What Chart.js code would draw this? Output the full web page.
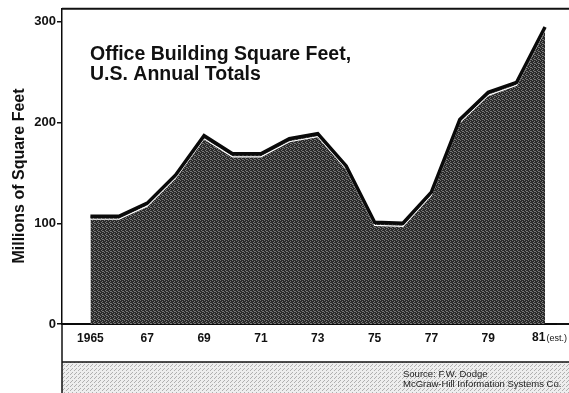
<!DOCTYPE html>
<html>
<head>
<meta charset="utf-8">
<script src="https://cdn.jsdelivr.net/npm/chart.js@4.4.1/dist/chart.umd.min.js"></script>
<style>
  html, body { margin: 0; padding: 0; background: #fff; overflow: hidden; }
  canvas { display: block; }
</style>
</head>
<body>
<canvas id="chart" width="569" height="393"></canvas>
<script>
// Office building square feet, U.S. annual totals (millions of sq ft)
const years   = [1965, 1966, 1967, 1968, 1969, 1970, 1971, 1972, 1973, 1974, 1975, 1976, 1977, 1978, 1979, 1980, 1981];
const sqFeet  = [107, 107, 120, 148, 187, 169, 169, 184, 189, 157, 101, 100, 131, 203, 230, 240, 295];

const tickYears  = [1965, 1967, 1969, 1971, 1973, 1975, 1977, 1979, 1981];
const tickLabels = ['1965', '67', '69', '71', '73', '75', '77', '79', '81'];
const yTicks     = [0, 100, 200, 300];

const titleLines  = ['Office Building Square Feet,', 'U.S. Annual Totals'];
const yTitle      = 'Millions of Square Feet';
const estNote     = '(est.)';
const sourceLines = ['Source: F.W. Dodge', 'McGraw-Hill Information Systems Co.'];

const FONT = "'Liberation Sans', Arial, Helvetica, sans-serif";

// Halftone-like tile patterns for the area fill and the footer band
function makePattern(base, dot, cells) {
  const c = document.createElement('canvas');
  c.width = 4; c.height = 4;
  const g = c.getContext('2d');
  g.fillStyle = base;
  g.fillRect(0, 0, 4, 4);
  g.fillStyle = dot;
  cells.forEach(([i, j]) => g.fillRect(i, j, 1, 1));
  return g.createPattern(c, 'repeat');
}
const ctx = document.getElementById('chart').getContext('2d');
const areaPattern = makePattern('#2a2a2a', '#777777', [[0, 0], [2, 1], [1, 2], [3, 3], [2, 3]]);
const bandPattern = makePattern('#eeeeee', '#b0b0b0', [[0, 0], [2, 2], [3, 1]]);

const points = years.map((y, i) => ({ x: y, y: sqFeet[i] }));

const decor = {
  id: 'decor',
  beforeDraw(chart) {
    const c = chart.ctx;
    c.save();
    c.fillStyle = '#fff';
    c.fillRect(0, 0, chart.width, chart.height);
    c.restore();
  },
  beforeDatasetDraw(chart, args) {
    if (args.index !== 0) return;
    const c = chart.ctx, a = chart.chartArea;
    c.save();
    c.beginPath();
    c.rect(a.left, a.top, a.right - a.left, a.bottom - a.top);
    c.clip();
    c.beginPath();
    // the thin white edge sits just beneath the heavy outline
    c.translate(0, 3);
  },
  afterDatasetDraw(chart, args) {
    if (args.index !== 0) return;
    chart.ctx.restore();
  },
  afterDraw(chart) {
    const c = chart.ctx, a = chart.chartArea;
    const W = chart.width, H = chart.height;
    c.save();
    c.lineCap = 'butt';
    c.strokeStyle = '#111';

    // top frame line and the axis line, both running to the right edge
    c.lineWidth = 2;
    c.beginPath();
    c.moveTo(a.left, a.top);
    c.lineTo(W, a.top);
    c.moveTo(a.right, a.bottom);
    c.lineTo(W, a.bottom);
    c.stroke();

    // footer band below the year labels
    const bandTop = 362;
    c.fillStyle = bandPattern;
    c.fillRect(a.left, bandTop, W - a.left, H - bandTop);
    c.lineWidth = 1.5;
    c.beginPath();
    c.moveTo(a.left, bandTop);
    c.lineTo(W, bandTop);
    c.stroke();
    c.beginPath();
    c.moveTo(a.left, a.bottom);
    c.lineTo(a.left, H);
    c.stroke();

    // chart title inside the plot
    c.fillStyle = '#111';
    c.font = 'bold 19.5px ' + FONT;
    c.textBaseline = 'alphabetic';
    c.textAlign = 'left';
    c.fillText(titleLines[0], 90, 60);
    c.fillText(titleLines[1], 90, 80);

    // vertical axis title
    c.save();
    c.translate(20, 176);
    c.rotate(-Math.PI / 2);
    c.font = 'bold 16px ' + FONT;
    c.textAlign = 'center';
    c.textBaseline = 'middle';
    c.fillText(yTitle, 0, 0);
    c.restore();

    // last year label carries the "(est.)" note
    const xs = chart.scales.x;
    const lastX = xs.getPixelForValue(tickYears[tickYears.length - 1]);
    c.textBaseline = 'middle';
    c.textAlign = 'left';
    c.font = 'bold 12px ' + FONT;
    const lastLabel = tickLabels[tickLabels.length - 1];
    const w81 = c.measureText(lastLabel).width;
    const startX = lastX - 13;
    c.fillText(lastLabel, startX, 338);
    c.font = '9px ' + FONT;
    c.fillText(estNote, startX + w81 + 1, 339);

    // source note
    c.font = '9.5px ' + FONT;
    c.textBaseline = 'alphabetic';
    c.fillStyle = '#222';
    c.fillText(sourceLines[0], 403, 377);
    c.fillText(sourceLines[1], 403, 387);

    c.restore();
  }
};

new Chart(ctx, {
  type: 'line',
  data: {
    datasets: [
      {
        data: points,
        fill: 'origin',
        backgroundColor: areaPattern,
        borderColor: '#ffffff',
        borderWidth: 1.2,
        pointRadius: 0,
        tension: 0,
        order: 1
      },
      {
        data: points,
        fill: false,
        borderColor: '#0a0a0a',
        borderWidth: 3.5,
        borderJoinStyle: 'miter',
        pointRadius: 0,
        tension: 0,
        order: 0
      }
    ]
  },
  options: {
    responsive: false,
    animation: false,
    layout: { padding: { top: 8, left: 0, right: 12, bottom: 0 } },
    plugins: {
      legend: { display: false },
      tooltip: { enabled: false },
      title: { display: false }
    },
    scales: {
      x: {
        type: 'linear',
        min: 1964,
        max: 1981.42,
        z: 1,
        afterFit(scale) { scale.height = 69; },
        afterBuildTicks(scale) { scale.ticks = tickYears.map(v => ({ value: v })); },
        grid: { display: false, drawTicks: false },
        border: { display: true, color: '#0a0a0a', width: 2 },
        ticks: {
          autoSkip: false,
          maxRotation: 0,
          padding: 7,
          color: '#111',
          font: { family: FONT, size: 12, weight: 'bold' },
          // the final year is written together with its "(est.)" note
          callback: (v) => (v === tickYears[tickYears.length - 1] ? '' : tickLabels[tickYears.indexOf(v)])
        }
      },
      y: {
        min: 0,
        max: 313,
        z: 1,
        afterFit(scale) { scale.width = 62; },
        afterBuildTicks(scale) { scale.ticks = yTicks.map(v => ({ value: v })); },
        grid: {
          drawOnChartArea: false,
          drawTicks: true,
          tickLength: 5,
          color: '#111',
          lineWidth: 1.5
        },
        border: { display: true, color: '#0a0a0a', width: 1.5 },
        ticks: {
          padding: 1,
          color: '#111',
          font: { family: FONT, size: 13, weight: 'bold' }
        },
        title: { display: false }
      }
    }
  },
  plugins: [decor]
});
</script>
</body>
</html>
